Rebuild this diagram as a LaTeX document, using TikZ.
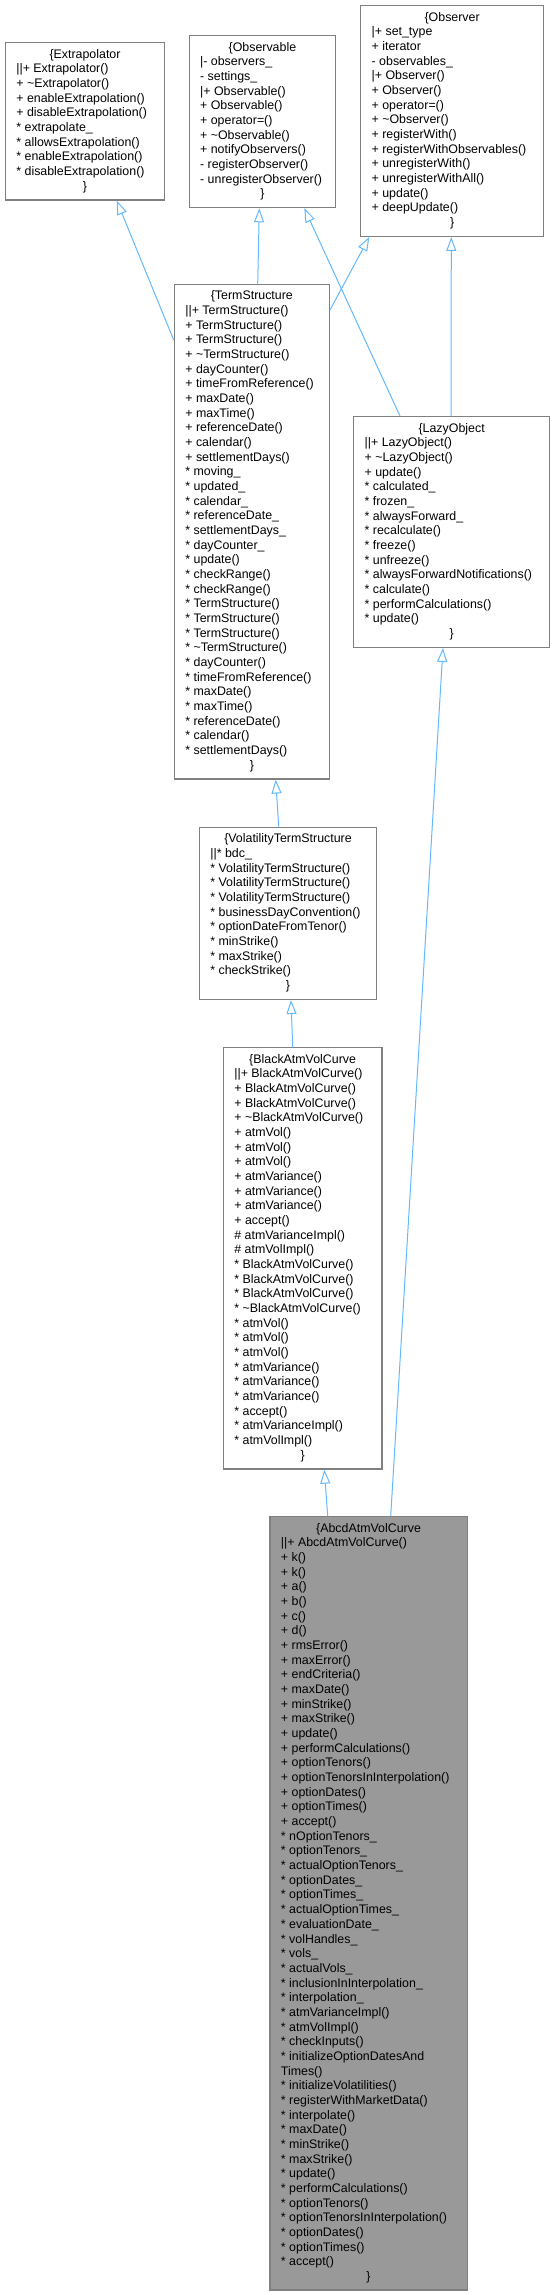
\documentclass[tikz,border=0pt]{standalone}
\usepackage{fontspec}
\setmainfont{Liberation Sans}
\usetikzlibrary{arrows.meta}
\definecolor{edgeblue}{HTML}{63B8FF}
\definecolor{boxgray}{HTML}{808080}
\definecolor{curfill}{HTML}{999999}
\newcommand\ctr[1]{\hbox to\hsize{\hss\strut#1\hss}}
\newcommand\lft[1]{\hbox to\hsize{\hskip11pt\strut#1\hss}}
\newcommand\cbody[2]{\vbox{\hsize=#1pt\relax #2}}
\newcommand\tl{\textasciitilde}
\tikzset{
  cls/.style={draw=boxgray, line width=1.3pt, fill=white, inner xsep=0pt, inner ysep=5.3pt,
    anchor=north west, font=\fontsize{12.4}{14.67}\selectfont},
  curcls/.style={cls, fill=curfill},
  inh/.style={draw=edgeblue, line width=1pt, -{Triangle[length=14pt,width=10pt,fill=white]}}
}
\begin{document}
\begin{tikzpicture}[x=1pt,y=-1pt]
\useasboundingbox (0,0) rectangle (555,2295);

\node[cls] (ext) at (4.7,42) {\cbody{159.3}{%
\ctr{\{Extrapolator}
\lft{||+ Extrapolator()}
\lft{+ \tl Extrapolator()}
\lft{+ enableExtrapolation()}
\lft{+ disableExtrapolation()}
\lft{* extrapolate\_}
\lft{* allowsExtrapolation()}
\lft{* enableExtrapolation()}
\lft{* disableExtrapolation()}
\ctr{\}}}};

\node[cls] (obs) at (188.5,35) {\cbody{146.5}{%
\ctr{\{Observable}
\lft{|- observers\_}
\lft{- settings\_}
\lft{|+ Observable()}
\lft{+ Observable()}
\lft{+ operator=()}
\lft{+ \tl Observable()}
\lft{+ notifyObservers()}
\lft{- registerObserver()}
\lft{- unregisterObserver()}
\ctr{\}}}};

\node[cls] (obr) at (360,5) {\cbody{183}{%
\ctr{\{Observer}
\lft{|+ set\_type}
\lft{+ iterator}
\lft{- observables\_}
\lft{|+ Observer()}
\lft{+ Observer()}
\lft{+ operator=()}
\lft{+ \tl Observer()}
\lft{+ registerWith()}
\lft{+ registerWithObservables()}
\lft{+ unregisterWith()}
\lft{+ unregisterWithAll()}
\lft{+ update()}
\lft{+ deepUpdate()}
\ctr{\}}}};

\node[cls] (ts) at (173.7,283.5) {\cbody{155}{%
\ctr{\{TermStructure}
\lft{||+ TermStructure()}
\lft{+ TermStructure()}
\lft{+ TermStructure()}
\lft{+ \tl TermStructure()}
\lft{+ dayCounter()}
\lft{+ timeFromReference()}
\lft{+ maxDate()}
\lft{+ maxTime()}
\lft{+ referenceDate()}
\lft{+ calendar()}
\lft{+ settlementDays()}
\lft{* moving\_}
\lft{* updated\_}
\lft{* calendar\_}
\lft{* referenceDate\_}
\lft{* settlementDays\_}
\lft{* dayCounter\_}
\lft{* update()}
\lft{* checkRange()}
\lft{* checkRange()}
\lft{* TermStructure()}
\lft{* TermStructure()}
\lft{* TermStructure()}
\lft{* \tl TermStructure()}
\lft{* dayCounter()}
\lft{* timeFromReference()}
\lft{* maxDate()}
\lft{* maxTime()}
\lft{* referenceDate()}
\lft{* calendar()}
\lft{* settlementDays()}
\ctr{\}}}};

\node[cls] (lazy) at (353,416) {\cbody{196}{%
\ctr{\{LazyObject}
\lft{||+ LazyObject()}
\lft{+ \tl LazyObject()}
\lft{+ update()}
\lft{* calculated\_}
\lft{* frozen\_}
\lft{* alwaysForward\_}
\lft{* recalculate()}
\lft{* freeze()}
\lft{* unfreeze()}
\lft{* alwaysForwardNotifications()}
\lft{* calculate()}
\lft{* performCalculations()}
\lft{* update()}
\ctr{\}}}};

\node[cls] (vts) at (198.7,826.7) {\cbody{177.3}{%
\ctr{\{VolatilityTermStructure}
\lft{||* bdc\_}
\lft{* VolatilityTermStructure()}
\lft{* VolatilityTermStructure()}
\lft{* VolatilityTermStructure()}
\lft{* businessDayConvention()}
\lft{* optionDateFromTenor()}
\lft{* minStrike()}
\lft{* maxStrike()}
\lft{* checkStrike()}
\ctr{\}}}};

\node[cls] (bavc) at (222.7,1047) {\cbody{158.6}{%
\ctr{\{BlackAtmVolCurve}
\lft{||+ BlackAtmVolCurve()}
\lft{+ BlackAtmVolCurve()}
\lft{+ BlackAtmVolCurve()}
\lft{+ \tl BlackAtmVolCurve()}
\lft{+ atmVol()}
\lft{+ atmVol()}
\lft{+ atmVol()}
\lft{+ atmVariance()}
\lft{+ atmVariance()}
\lft{+ atmVariance()}
\lft{+ accept()}
\lft{\# atmVarianceImpl()}
\lft{\# atmVolImpl()}
\lft{* BlackAtmVolCurve()}
\lft{* BlackAtmVolCurve()}
\lft{* BlackAtmVolCurve()}
\lft{* \tl BlackAtmVolCurve()}
\lft{* atmVol()}
\lft{* atmVol()}
\lft{* atmVol()}
\lft{* atmVariance()}
\lft{* atmVariance()}
\lft{* atmVariance()}
\lft{* accept()}
\lft{* atmVarianceImpl()}
\lft{* atmVolImpl()}
\ctr{\}}}};

\node[curcls] (abcd) at (269.3,1516) {\cbody{197.2}{%
\ctr{\{AbcdAtmVolCurve}
\lft{||+ AbcdAtmVolCurve()}
\lft{+ k()}
\lft{+ k()}
\lft{+ a()}
\lft{+ b()}
\lft{+ c()}
\lft{+ d()}
\lft{+ rmsError()}
\lft{+ maxError()}
\lft{+ endCriteria()}
\lft{+ maxDate()}
\lft{+ minStrike()}
\lft{+ maxStrike()}
\lft{+ update()}
\lft{+ performCalculations()}
\lft{+ optionTenors()}
\lft{+ optionTenorsInInterpolation()}
\lft{+ optionDates()}
\lft{+ optionTimes()}
\lft{+ accept()}
\lft{* nOptionTenors\_}
\lft{* optionTenors\_}
\lft{* actualOptionTenors\_}
\lft{* optionDates\_}
\lft{* optionTimes\_}
\lft{* actualOptionTimes\_}
\lft{* evaluationDate\_}
\lft{* volHandles\_}
\lft{* vols\_}
\lft{* actualVols\_}
\lft{* inclusionInInterpolation\_}
\lft{* interpolation\_}
\lft{* atmVarianceImpl()}
\lft{* atmVolImpl()}
\lft{* checkInputs()}
\lft{* initializeOptionDatesAnd}
\lft{Times()}
\lft{* initializeVolatilities()}
\lft{* registerWithMarketData()}
\lft{* interpolate()}
\lft{* maxDate()}
\lft{* minStrike()}
\lft{* maxStrike()}
\lft{* update()}
\lft{* performCalculations()}
\lft{* optionTenors()}
\lft{* optionTenorsInInterpolation()}
\lft{* optionDates()}
\lft{* optionTimes()}
\lft{* accept()}
\ctr{\}}}};

% inheritance edges
\draw[inh] ([yshift=-56.5pt]ts.north west) -- ([xshift=112pt]ext.south west);
\draw[inh] ([xshift=84pt]ts.north west) -- ([xshift=70.8pt]obs.south west);
\draw[inh] ([yshift=-26.5pt]ts.north east) -- ([xshift=9.3pt]obr.south west);
\draw[inh] ([xshift=47pt]lazy.north west) -- ([xshift=115.8pt]obs.south west);
\draw[inh] ([xshift=98pt]lazy.north west) -- ([xshift=91.3pt]obr.south west);
\draw[inh] ([xshift=80pt]vts.north west) -- ([xshift=102pt]ts.south west);
\draw[inh] ([xshift=70pt]bavc.north west) -- ([xshift=92.3pt]vts.south west);
\draw[inh] ([xshift=58.4pt]abcd.north west) -- ([xshift=101.6pt]bavc.south west);
\draw[inh] ([xshift=121.4pt]abcd.north west) -- ([xshift=90pt]lazy.south west);
\end{tikzpicture}
\end{document}
